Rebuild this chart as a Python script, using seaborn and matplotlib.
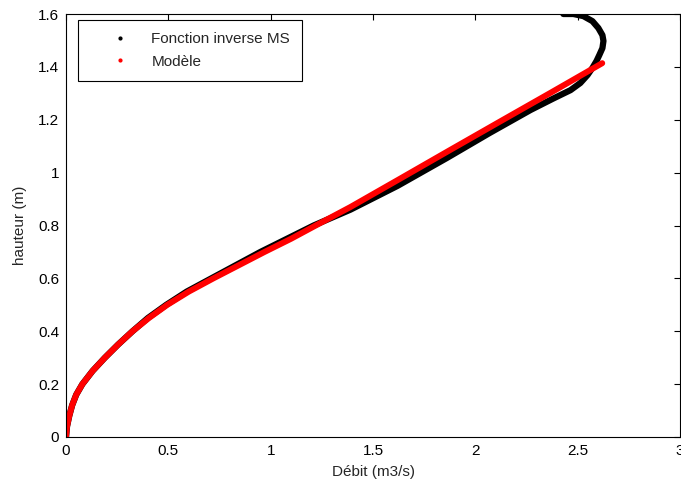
import pandas as pd
import matplotlib
matplotlib.use("Agg")
import matplotlib.pyplot as plt
import seaborn as sns
from matplotlib.lines import Line2D

# ======================
# Data (debit Q in m3/s, hauteur h in m)
# ======================
q_inverse = [0, 0.005, 0.016, 0.03, 0.05, 0.08, 0.13, 0.19, 0.255, 0.325,
             0.40, 0.49, 0.59, 0.71, 0.83, 0.95, 1.08, 1.21, 1.39, 1.62,
             1.86, 2.07, 2.27, 2.38, 2.465, 2.513, 2.548, 2.572, 2.592,
             2.606, 2.621, 2.626, 2.621, 2.601, 2.572, 2.528, 2.479, 2.43]
h_inverse = [0, 0.04, 0.08, 0.12, 0.16, 0.2, 0.25, 0.3, 0.35, 0.4,
             0.45, 0.5, 0.55, 0.6, 0.65, 0.7, 0.75, 0.8, 0.86, 0.95,
             1.055, 1.15, 1.237, 1.28, 1.312, 1.339, 1.369, 1.396, 1.422,
             1.445, 1.471, 1.498, 1.52, 1.547, 1.573, 1.592, 1.60, 1.60]

q_modele = [0, 0.005, 0.016, 0.03, 0.05, 0.08, 0.13, 0.19, 0.255, 0.325,
            0.405, 0.495, 0.60, 0.72, 0.845, 0.97, 1.10, 1.22, 1.39, 1.63,
            1.88, 2.12, 2.37, 2.62]
h_modele = [0, 0.04, 0.08, 0.12, 0.16, 0.2, 0.25, 0.3, 0.35, 0.4,
            0.45, 0.5, 0.55, 0.6, 0.65, 0.7, 0.75, 0.8, 0.87, 0.976,
            1.087, 1.193, 1.303, 1.414]

x_ticks = [0, 0.5, 1, 1.5, 2, 2.5, 3]
y_ticks = [0, 0.2, 0.4, 0.6, 0.8, 1, 1.2, 1.4, 1.6]

df_inv = pd.DataFrame({"Q": q_inverse, "h": h_inverse})
df_mod = pd.DataFrame({"Q": q_modele, "h": h_modele})

sns.set_style("white")
plt.rcParams["font.family"] = ["Liberation Sans", "DejaVu Sans"]

fig = plt.figure(figsize=(6.81, 4.84), dpi=100)
ax = fig.add_axes([66 / 681, 47 / 484, 614 / 681, 423 / 484])

# estimator=None so points sharing a Q value (the bend at the top) are kept
sns.lineplot(data=df_inv, x="Q", y="h", sort=False, estimator=None,
             color="black", linewidth=4.5, solid_capstyle="round",
             solid_joinstyle="round", ax=ax)
sns.lineplot(data=df_mod, x="Q", y="h", sort=False, estimator=None,
             color="red", linewidth=4.3, solid_capstyle="round",
             solid_joinstyle="round", ax=ax)

ax.set_xlim(0, 3)
ax.set_ylim(0, 1.6)
ax.set_xticks(x_ticks)
ax.set_xticklabels([f"{t:g}" for t in x_ticks])
ax.set_yticks(y_ticks)
ax.set_yticklabels([f"{t:g}" for t in y_ticks])
ax.tick_params(direction="in", length=4, width=0.8, top=True, right=True,
               labelsize=11, colors="black", pad=5)
for s in ax.spines.values():
    s.set_color("black")
    s.set_linewidth(0.8)

ax.set_xlabel("Débit (m3/s)", fontsize=11, labelpad=5)
ax.set_ylabel("hauteur (m)", fontsize=11, labelpad=8)

handles = [Line2D([], [], color="black", marker=".", markersize=4, linestyle="none"),
           Line2D([], [], color="red", marker=".", markersize=4, linestyle="none")]
leg = ax.legend(handles, ["Fonction inverse MS", "Modèle"], loc="upper left",
                bbox_to_anchor=(12 / 614, 1 - 6 / 423), borderaxespad=0,
                fancybox=False, framealpha=1, edgecolor="black", fontsize=11,
                handlelength=3.9, handletextpad=0.1, borderpad=0.8,
                labelspacing=0.55)
leg.get_frame().set_linewidth(0.8)

fig.savefig("out.png", dpi=100)
